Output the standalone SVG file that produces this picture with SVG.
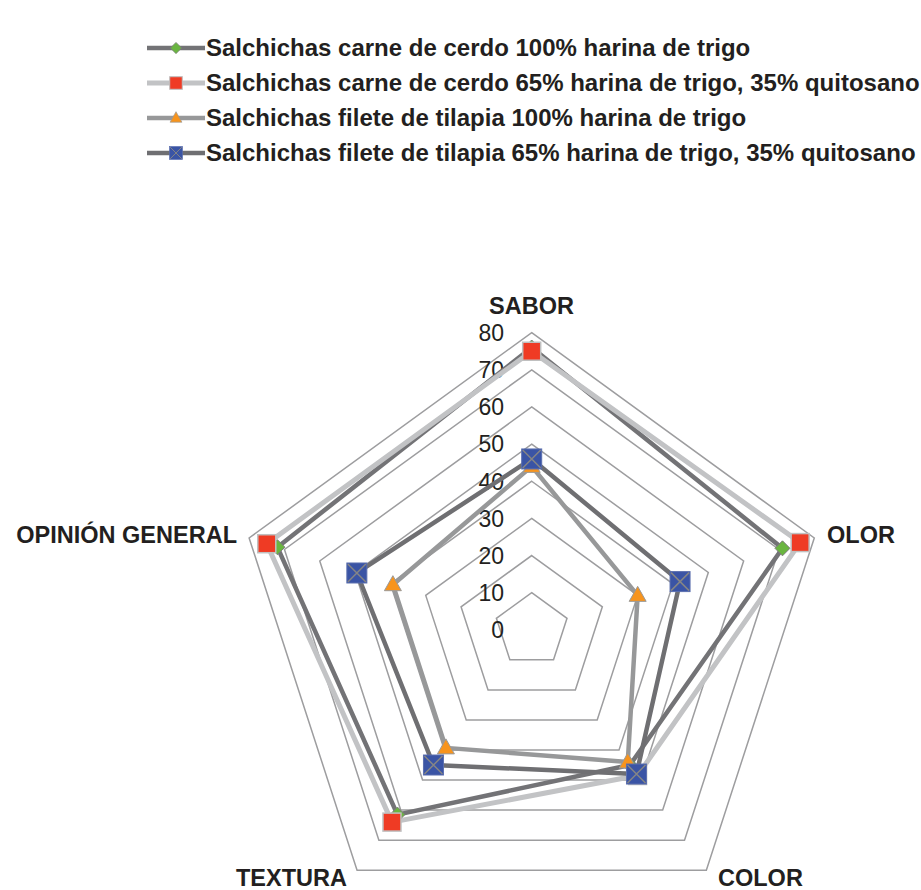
<svg xmlns="http://www.w3.org/2000/svg" xmlns:xlink="http://www.w3.org/1999/xlink" width="921" height="890" viewBox="0 0 921 890">
<style>
.grid{fill:none;stroke:#9d9d9f;stroke-width:1.5}
.tick{font-family:"Liberation Sans",Arial,sans-serif;font-size:23px;fill:#231f20;text-anchor:end}
.axl{font-family:"Liberation Sans",Arial,sans-serif;font-size:23.5px;font-weight:bold;fill:#231f20}
.leg{font-family:"Liberation Sans",Arial,sans-serif;font-size:24px;font-weight:bold;fill:#231f20}
.s1{fill:none;stroke:#737376;stroke-width:4.5;stroke-linejoin:round}
.s2{fill:none;stroke:#c2c3c5;stroke-width:5;stroke-linejoin:round}
.s3{fill:none;stroke:#979899;stroke-width:4.5;stroke-linejoin:round}
.s4{fill:none;stroke:#6f6f72;stroke-width:4.5;stroke-linejoin:round}
</style>
<defs>
<polygon id="m1" points="0,-7.5 7.5,0 0,7.5 -7.5,0" fill="#6ab540" stroke="#7c7c7c" stroke-width="1"/>
<rect id="m2" x="-9" y="-9" width="18" height="18" fill="#ef3b24" stroke="#c0c0c0" stroke-width="1.5"/>
<polygon id="m3" points="0,-9 8.5,6 -8.5,6" fill="#f7941d" stroke="#9a9a9a" stroke-width="1"/>
<g id="m4"><rect x="-10" y="-10" width="20" height="20" fill="#3a54a5" stroke="#5b6fae" stroke-width="1"/><path d="M-9,-9L9,9M9,-9L-9,9" stroke="#858585" stroke-width="1.5"/></g>
</defs>
<g id="legend">
<g id="legend-1"><line x1="147" y1="48" x2="205" y2="48" class="s1"/><use xlink:href="#m1" transform="translate(176 48) scale(0.75)"/><text class="leg" x="206" y="56">Salchichas carne de cerdo 100% harina de trigo</text></g>
<g id="legend-2"><line x1="147" y1="83" x2="205" y2="83" class="s2"/><use xlink:href="#m2" transform="translate(176 83) scale(0.7)"/><text class="leg" x="206" y="91">Salchichas carne de cerdo 65% harina de trigo, 35% quitosano</text></g>
<g id="legend-3"><line x1="147" y1="118" x2="205" y2="118" class="s3"/><use xlink:href="#m3" transform="translate(176 118) scale(0.7)"/><text class="leg" x="206" y="126">Salchichas filete de tilapia 100% harina de trigo</text></g>
<g id="legend-4"><line x1="147" y1="153" x2="205" y2="153" class="s4"/><use xlink:href="#m4" transform="translate(176 153) scale(0.65)"/><text class="leg" x="206" y="161">Salchichas filete de tilapia 65% harina de trigo, 35% quitosano</text></g>
</g>
<g id="grid">
<polygon class="grid" points="531.7,592.66 567.02,618.32 553.53,659.85 509.87,659.85 496.38,618.32"/>
<polygon class="grid" points="531.7,555.52 602.34,606.85 575.36,689.89 488.04,689.89 461.06,606.85"/>
<polygon class="grid" points="531.7,518.38 637.67,595.37 597.19,719.94 466.21,719.94 425.73,595.37"/>
<polygon class="grid" points="531.7,481.24 672.99,583.89 619.02,749.99 444.38,749.99 390.41,583.89"/>
<polygon class="grid" points="531.7,444.10 708.31,572.42 640.85,780.04 422.55,780.04 355.09,572.42"/>
<polygon class="grid" points="531.7,406.96 743.63,560.94 662.68,810.08 400.72,810.08 319.77,560.94"/>
<polygon class="grid" points="531.7,369.82 778.96,549.46 684.51,840.13 378.89,840.13 284.45,549.46"/>
<polygon class="grid" points="531.7,332.68 814.28,537.98 706.34,870.18 357.06,870.18 249.12,537.98"/>
</g>
<g id="ticks">
<text class="tick" x="504" y="638.3">0</text>
<text class="tick" x="504" y="601">10</text>
<text class="tick" x="504" y="563.8">20</text>
<text class="tick" x="504" y="526.7">30</text>
<text class="tick" x="504" y="489.5">40</text>
<text class="tick" x="504" y="452.4">50</text>
<text class="tick" x="504" y="415.3">60</text>
<text class="tick" x="504" y="378.1">70</text>
<text class="tick" x="504" y="341">80</text>
</g>
<g id="axis-labels">
<text id="lbl-sabor" class="axl" x="531.5" y="314" text-anchor="middle">SABOR</text>
<text id="lbl-olor" class="axl" x="827" y="543">OLOR</text>
<text id="lbl-color" class="axl" x="718" y="886">COLOR</text>
<text id="lbl-textura" class="axl" x="236" y="886">TEXTURA</text>
<text id="lbl-opinion" class="axl" x="237" y="543" text-anchor="end">OPINIÓN GENERAL</text>
</g>
<g id="connectors">
<polygon id="line-1" class="s1" points="531.7,347.54 782.48,548.32 629.94,765.01 397.44,814.59 277.38,547.17"/>
<polygon id="line-2" class="s2" points="531.7,351.25 800.15,542.58 637.58,775.53 391.98,822.10 266.78,543.72"/>
<polygon id="line-3" class="s3" points="531.7,466.38 637.67,595.37 627.76,762.01 445.91,747.88 392.88,584.70"/>
<polygon id="line-4" class="s4" points="531.7,458.96 680.05,581.60 636.49,774.02 433.46,765.01 356.86,572.99"/>
</g>
<g id="series-1">
<use xlink:href="#m1" x="531.7" y="347.54"/><use xlink:href="#m1" x="782.48" y="548.32"/><use xlink:href="#m1" x="629.94" y="765.01"/><use xlink:href="#m1" x="397.44" y="814.59"/><use xlink:href="#m1" x="277.38" y="547.17"/>
</g>
<g id="series-2">
<use xlink:href="#m2" x="531.7" y="351.25"/><use xlink:href="#m2" x="800.15" y="542.58"/><use xlink:href="#m2" x="637.58" y="775.53"/><use xlink:href="#m2" x="391.98" y="822.10"/><use xlink:href="#m2" x="266.78" y="543.72"/>
</g>
<g id="series-3">
<use xlink:href="#m3" x="531.7" y="466.38"/><use xlink:href="#m3" x="637.67" y="595.37"/><use xlink:href="#m3" x="627.76" y="762.01"/><use xlink:href="#m3" x="445.91" y="747.88"/><use xlink:href="#m3" x="392.88" y="584.70"/>
</g>
<g id="series-4">
<use xlink:href="#m4" x="531.7" y="458.96"/><use xlink:href="#m4" x="680.05" y="581.60"/><use xlink:href="#m4" x="636.49" y="774.02"/><use xlink:href="#m4" x="433.46" y="765.01"/><use xlink:href="#m4" x="356.86" y="572.99"/>
</g>
</svg>
